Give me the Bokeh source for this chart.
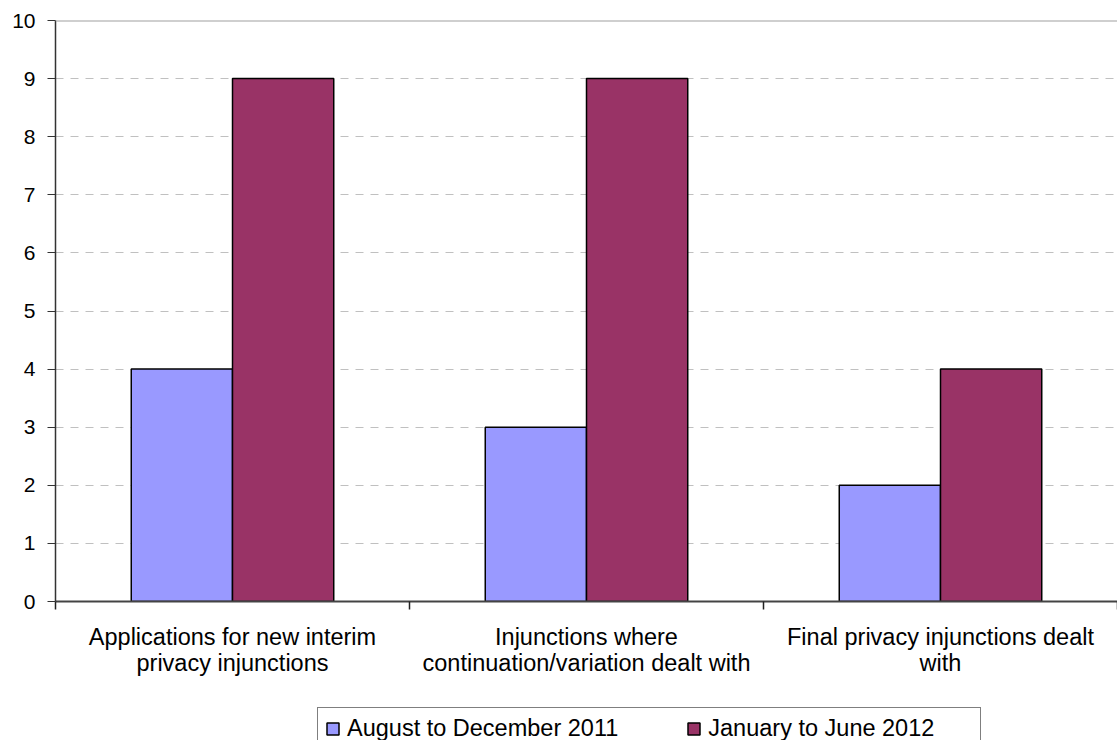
from bokeh.plotting import figure
from bokeh.models import (Range1d, FixedTicker, Span, Legend, LegendItem,
                          ColumnDataSource)
from bokeh.layouts import column
from bokeh.embed import file_html
from bokeh.resources import INLINE

categories = ["Applications for new interim\nprivacy injunctions",
              "Injunctions where\ncontinuation/variation dealt with",
              "Final privacy injunctions dealt\nwith"]
series_names = ["August to December 2011", "January to June 2012"]
aug_dec_2011 = [4, 3, 2]
jan_jun_2012 = [9, 9, 4]
y_ticks = [0, 1, 2, 3, 4, 5, 6, 7, 8, 9, 10]

colors = ["#9999FF", "#993366"]
FONT = "Liberation Sans"
bar_w = 0.286

n = len(categories)
centers = [i + 0.5 for i in range(n)]
series = [aug_dec_2011, jan_jun_2012]

p = figure(width=1117, height=700, output_backend="svg", toolbar_location=None,
           x_range=Range1d(0, n), y_range=Range1d(y_ticks[0], y_ticks[-1]),
           min_border_left=55, min_border_right=0, min_border_top=20,
           min_border_bottom=99)
p.outline_line_color = None
p.background_fill_color = "white"
p.border_fill_color = "white"

sources = []
for k, vals in enumerate(series):
    off = (k - 0.5) * bar_w
    src = ColumnDataSource(dict(x=[c + off for c in centers], top=vals))
    sources.append(src)
    p.vbar(x="x", top="top", width=bar_w, bottom=0, source=src,
           fill_color=colors[k], line_color="black", line_width=1.5)

# grid
p.xgrid.visible = False
p.ygrid.ticker = FixedTicker(ticks=y_ticks[:-1])
p.ygrid.grid_line_color = "#C0C0C0"
p.ygrid.grid_line_dash = "8 7"
p.ygrid.grid_line_width = 1
p.add_layout(Span(location=y_ticks[-1], dimension="width",
                  line_color="#A0A0A0", line_width=2))

# y axis
p.yaxis.ticker = FixedTicker(ticks=y_ticks)
p.yaxis.major_label_text_font = FONT
p.yaxis.major_label_text_font_size = "21px"
p.yaxis.major_label_text_color = "black"
p.yaxis.axis_line_color = "#333333"
p.yaxis.axis_line_width = 1.5
p.yaxis.major_tick_line_color = "#333333"
p.yaxis.major_tick_out = 8
p.yaxis.major_tick_in = 0
p.yaxis.minor_tick_line_color = None
p.yaxis.major_label_standoff = 12

# x axis
p.xaxis.ticker = FixedTicker(ticks=centers, minor_ticks=list(range(n + 1)))
p.xaxis.major_label_overrides = {c: lab for c, lab in zip(centers, categories)}
p.xaxis.major_label_text_font = FONT
p.xaxis.major_label_text_font_size = "23.5px"
p.xaxis.major_label_text_color = "black"
p.xaxis.major_label_text_line_height = 1.02
p.xaxis.axis_line_color = "#444444"
p.xaxis.axis_line_width = 2
p.xaxis.major_tick_line_color = None
p.xaxis.major_tick_out = 0
p.xaxis.major_tick_in = 0
p.xaxis.minor_tick_line_color = "#222222"
p.xaxis.minor_tick_line_width = 1.5
p.xaxis.minor_tick_out = 8
p.xaxis.minor_tick_in = 0
p.xaxis.major_label_standoff = 14

# legend strip below the chart
lg = figure(width=1117, height=40, output_backend="svg", toolbar_location=None,
            x_range=Range1d(0, n), y_range=Range1d(y_ticks[0], y_ticks[-1]),
            x_axis_location=None, y_axis_location=None,
            min_border_left=0, min_border_right=0, min_border_top=0,
            min_border_bottom=0)
lg.grid.visible = False
lg.outline_line_color = None
lg.background_fill_color = "white"
lg.border_fill_color = "white"
proxies = []
for k in range(2):
    r = lg.vbar(x="x", top="top", width=bar_w, bottom=0, source=sources[k],
                fill_color=colors[k], line_color="black", line_width=1.5)
    r.visible = False
    proxies.append(r)

legend = Legend(items=[LegendItem(label=series_names[k], renderers=[proxies[k]])
                       for k in range(2)],
                orientation="horizontal", location=(262, -10),
                label_text_font=FONT, label_text_font_size="23.5px",
                label_text_color="black", glyph_width=15, glyph_height=15,
                label_standoff=7, spacing=68, padding=7, margin=0,
                label_width=265, label_height=20,
                inactive_fill_alpha=0,
                border_line_color="black", border_line_width=1,
                background_fill_alpha=1, background_fill_color="white")
lg.add_layout(legend, "center")

open("out.html", "w").write(file_html(column(p, lg, spacing=0), INLINE))
